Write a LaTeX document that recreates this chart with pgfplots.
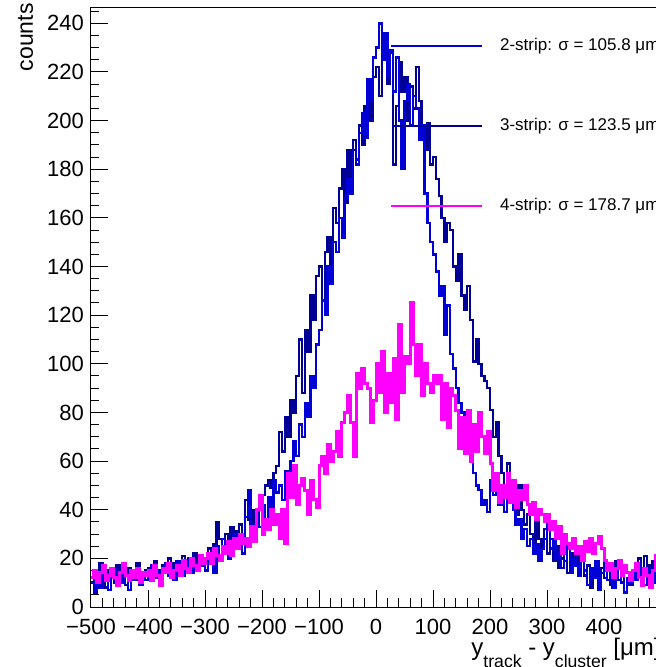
\documentclass[border=0pt]{standalone}
\usepackage{pgfplots}
\pgfplotsset{compat=1.18}
\usepackage{pgfplotstable}
\usepackage{fontspec}
\setmainfont{Liberation Sans}
\definecolor{navyh}{RGB}{0,0,150}
\definecolor{blueh}{RGB}{0,0,215}
\definecolor{magh}{RGB}{255,0,255}
\pgfplotstableread{
x s2 s3 s4
-500 10 12 12
-495 6 9 15
-490 13 14 10
-485 8 18 14
-480 15 11 17
-475 11 8 11
-470 7 15 13
-465 12 13 16
-460 16 10 12
-455 9 17 9
-450 14 14 14
-445 10 12 18
-440 13 9 13
-435 7 16 11
-430 11 13 15
-425 15 11 12
-420 12 18 16
-415 9 14 10
-410 14 12 14
-405 11 15 13
-400 13 16 15
-395 17 13 11
-390 12 19 17
-385 15 14 13
-380 10 12 9
-375 14 17 16
-370 18 15 14
-365 13 20 18
-360 16 14 12
-355 11 18 15
-350 19 13 17
-345 15 16 13
-340 13 21 19
-335 17 15 16
-330 20 19 14
-325 14 14 20
-320 18 22 17
-315 16 17 15
-310 21 20 21
-305 17 18 18
-300 15 20 20
-295 22 24 22
-290 18 18 18
-285 14 26 24
-280 25 35 21
-275 21 28 19
-270 28 25 25
-265 24 30 22
-260 20 27 27
-255 26 33 21
-250 30 28 28
-245 24 31 24
-240 27 34 30
-235 22 30 26
-230 37 44 28
-225 48 36 25
-220 34 32 33
-215 29 40 27
-210 38 35 40
-205 33 44 46
-200 42 46 30
-195 36 50 36
-190 45 52 32
-185 40 49 40
-180 52 55 34
-175 47 58 38
-170 50 72 28
-165 44 64 40
-160 56 78 26
-155 49 70 55
-150 60 85 45
-145 68 80 58
-140 62 95 42
-135 75 110 50
-130 70 88 53
-125 84 114 48
-120 78 105 38
-115 95 128 52
-110 90 118 44
-105 108 136 41
-100 114 140 58
-95 126 126 62
-90 120 146 55
-85 140 152 67
-80 133 135 60
-75 150 164 64
-70 146 158 72
-65 160 172 62
-60 152 180 76
-55 168 166 80
-50 176 188 87
-45 170 176 76
-40 188 192 62
-35 182 184 96
-30 195 198 90
-25 203 190 98
-20 193 206 92
-15 217 212 90
-10 208 200 76
-5 226 218 85
0 230 222 100
5 240 210 88
10 225 226 105
15 236 234 80
20 218 215 96
25 229 228 84
30 212 182 102
35 226 206 77
40 200 224 116
45 180 212 88
50 208 218 103
55 215 200 100
60 198 214 125
65 210 205 108
70 205 222 95
75 192 208 108
80 198 196 87
85 170 188 100
90 158 199 92
95 150 182 88
100 145 185 95
105 138 176 92
110 128 169 95
115 132 160 77
120 112 150 92
125 124 158 74
130 104 155 90
135 98 140 87
140 90 134 81
145 84 145 65
150 80 128 78
155 72 122 63
160 68 132 81
165 62 118 60
170 55 101 75
175 50 110 64
180 48 100 80
185 42 95 70
190 44 93 63
195 39 90 72
200 52 81 59
205 46 70 48
210 55 76 55
215 42 62 43
220 48 55 50
225 39 48 45
230 50 59 55
235 44 52 43
240 40 45 52
245 34 38 41
250 36 50 48
255 28 40 44
260 32 34 50
265 25 38 42
270 28 30 38
275 22 25 43
280 26 35 36
285 19 28 40
290 24 24 38
295 28 32 35
300 34 22 38
305 24 28 32
310 28 19 35
315 20 25 28
320 22 16 33
325 16 20 22
330 19 26 30
335 25 14 26
340 14 22 24
345 20 18 28
350 17 24 22
355 13 15 25
360 22 19 19
365 15 13 27
370 9 17 23
375 16 8 28
380 12 14 22
385 19 18 26
390 7 11 29
395 14 16 24
400 18 12 19
405 11 17 15
410 15 9 18
415 8 14 12
420 13 19 16
425 17 11 19
430 10 15 13
435 6 6 17
440 12 12 14
445 9 9 11
450 15 14 15
455 11 18 18
460 18 20 12
465 13 15 9
470 9 21 16
475 16 17 13
480 12 13 8
485 14 19 15
490 10 16 21
495 13 12 23
500 13 12 23
}\histdata
\begin{document}
\begin{tikzpicture}
\begin{axis}[
  at={(0,0)}, anchor=south west,
  scale only axis, width=285pt, height=299.5pt,
  xmin=-500, xmax=500, ymin=0, ymax=246.3,
  clip mode=individual,
  axis line style={line width=0.5pt},
  tick align=inside, xtick pos=left, ytick pos=left,
  major tick length=8.5pt, minor tick length=4.25pt,
  every tick/.style={black, line width=0.5pt},
  xtick={-500,-400,...,500},
  xticklabels={−500,−400,−300,−200,−100,0,100,200,300,400,{}},
  minor xtick={-480,-460,...,500},
  ytick={0,20,...,240},
  minor ytick={5,10,...,245},
  tick label style={font=\fontsize{11}{13}\selectfont},
  /pgf/number format/assume math mode=true,
  xticklabel style={yshift=-2.5pt},
]
\addplot[const plot, draw=navyh, line width=1.2pt] table[x=x,y=s3] {\histdata};
\addplot[const plot, draw=blueh, line width=1.2pt] table[x=x,y=s2] {\histdata};
\addplot[const plot, draw=magh, line width=1.5pt] table[x=x,y=s4] {\histdata};
\addplot[draw=blueh, line width=1.2pt] coordinates {(26,230.7) (186,230.7)};
\addplot[draw=navyh, line width=1.2pt] coordinates {(30,197.8) (186,197.8)};
\addplot[draw=magh, line width=1.2pt] coordinates {(26,164.9) (186,164.9)};
\node[anchor=west, inner sep=0pt, font=\fontsize{8.5}{10}\selectfont] at (axis cs:217,230.7) {2-strip: σ = 105.8 μm};
\node[anchor=west, inner sep=0pt, font=\fontsize{8.5}{10}\selectfont] at (axis cs:217,197.8) {3-strip: σ = 123.5 μm};
\node[anchor=west, inner sep=0pt, font=\fontsize{8.5}{10}\selectfont] at (axis cs:217,164.9) {4-strip: σ = 178.7 μm};
\node[anchor=base east, inner sep=0pt, font=\fontsize{12}{14}\selectfont] at ([yshift=-24pt]rel axis cs:1,0) {y\raisebox{-6pt}{\fontsize{8.8}{10}\selectfont track} - y\raisebox{-6pt}{\fontsize{8.8}{10}\selectfont cluster} [μm]};
\node[rotate=90, anchor=base east, inner sep=0pt, font=\fontsize{11.5}{13}\selectfont] at ([xshift=-29pt,yshift=2.5pt]rel axis cs:0,1) {counts};
\end{axis}
\pgfresetboundingbox
\path[use as bounding box] (-45.5pt,-30pt) rectangle (282.5pt,303.5pt);
\end{tikzpicture}
\end{document}
